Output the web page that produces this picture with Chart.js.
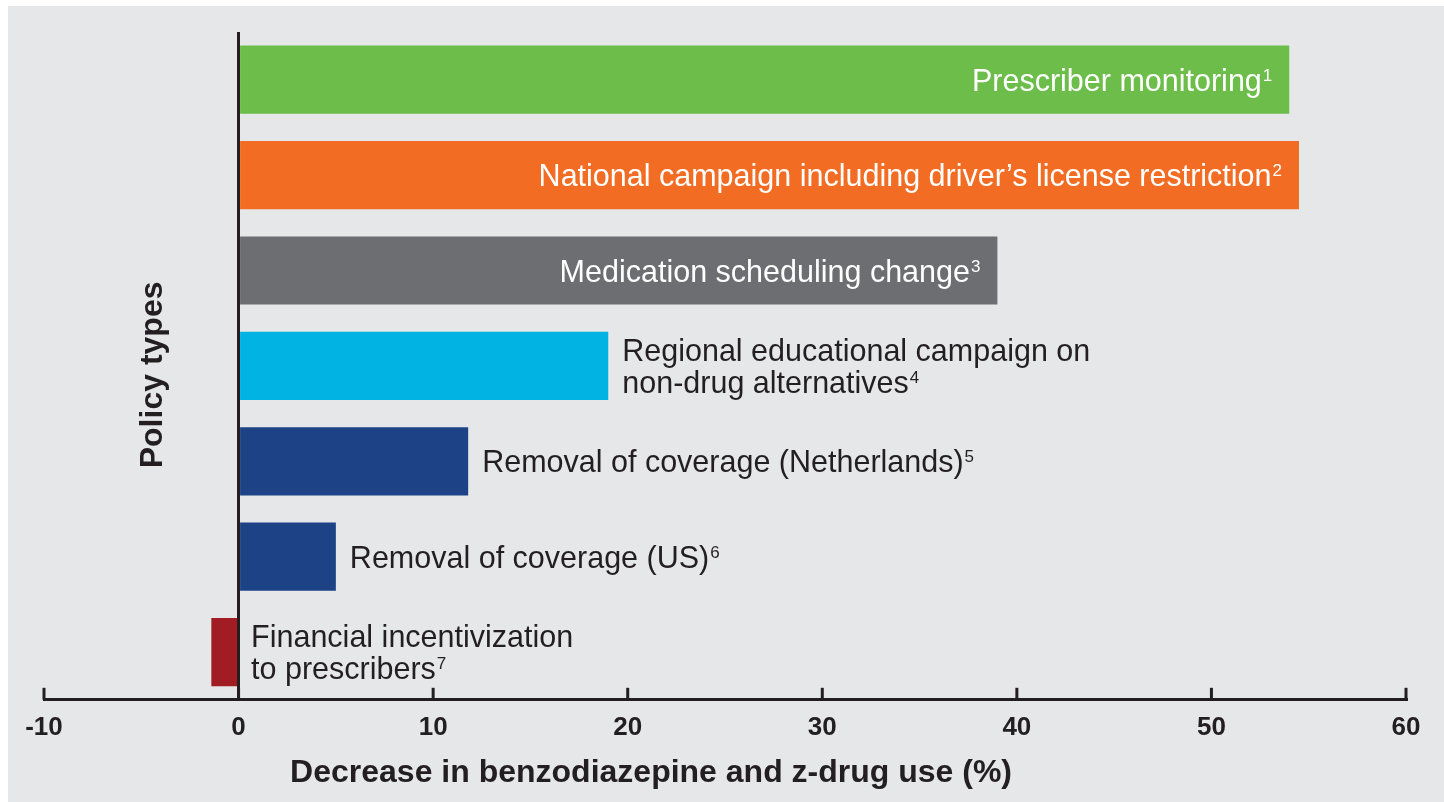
<!DOCTYPE html>
<html>
<head>
<meta charset="utf-8">
<script src="https://cdn.jsdelivr.net/npm/chart.js@4/dist/chart.umd.min.js"></script>
<style>
    body { margin: 0; background: #ffffff; }
    #panel { position: absolute; left: 8px; top: 6px; width: 1436px; height: 796px; background: #e6e7e9; }
</style>
</head>
<body>
<div id="panel"><canvas id="policyChart" width="1436" height="796"></canvas></div>
<script>
// policy types, top to bottom
const categories = [
    ["Prescriber monitoring"],
    ["National campaign including driver\u2019s license restriction"],
    ["Medication scheduling change"],
    ["Regional educational campaign on", "non-drug alternatives"],
    ["Removal of coverage (Netherlands)"],
    ["Removal of coverage (US)"],
    ["Financial incentivization", "to prescribers"]
];
const notes = ["1", "2", "3", "4", "5", "6", "7"];
// decrease in benzodiazepine and z-drug use (%)
const values = [54.0, 54.5, 39.0, 19.0, 11.8, 5.0, -1.4];
const barColors = ["#6dbd4b", "#f26d23", "#6d6e71", "#00b3e3", "#1d4386", "#1d4386", "#a21d23"];
const xMin = -10, xMax = 60, xStep = 10;

const ink = "#231f20";
const labelFont = "30.5px 'Liberation Sans', Arial, sans-serif";
const noteFont = "17px 'Liberation Sans', Arial, sans-serif";
const titleFont = "bold 32px 'Liberation Sans', Arial, sans-serif";

const decor = {
    id: "decor",
    afterDatasetsDraw(chart) {
        const ctx = chart.ctx;
        const xs = chart.scales.x;
        const area = chart.chartArea;
        ctx.save();

        // ticks pointing up from the axis line
        ctx.strokeStyle = ink;
        ctx.lineWidth = 3;
        xs.ticks.forEach(t => {
            let px = xs.getPixelForValue(t.value);
            ctx.beginPath();
            ctx.moveTo(px, area.bottom);
            ctx.lineTo(px, area.bottom - 12);
            ctx.stroke();
        });

        // bar labels with footnote numbers
        let meta = chart.getDatasetMeta(0);
        meta.data.forEach((bar, i) => {
            let lines = categories[i];
            let inside = values[i] > 30;
            ctx.font = noteFont;
            let noteW = ctx.measureText(notes[i]).width;
            let gap = 32;
            let firstBase = bar.y + 11 - gap * (lines.length - 1) / 2;
            ctx.fillStyle = inside ? "#ffffff" : ink;
            ctx.textBaseline = "alphabetic";
            ctx.textAlign = "left";
            lines.forEach((line, j) => {
                ctx.font = labelFont;
                let w = ctx.measureText(line).width;
                let x0;
                if (inside) {
                    x0 = bar.x - 18 - (j === lines.length - 1 ? w + noteW : w);
                } else {
                    x0 = Math.max(bar.x, bar.base) + 14;
                }
                let y = firstBase + gap * j;
                ctx.fillText(line, x0, y);
                if (j === lines.length - 1) {
                    ctx.font = noteFont;
                    ctx.fillText(notes[i], x0 + w + 1, y - 10);
                }
            });
        });

        // axis titles
        ctx.fillStyle = ink;
        ctx.font = titleFont;
        ctx.textAlign = "center";
        ctx.textBaseline = "middle";
        ctx.fillText("Decrease in benzodiazepine and z-drug use (%)", xs.getPixelForValue(21.2), 767);
        ctx.translate(145, (area.top + area.bottom) / 2 + 9);
        ctx.rotate(-Math.PI / 2);
        ctx.fillText("Policy types", 0, 0);
        ctx.restore();
    }
};

function policyChart() {

    let policyChart = document.getElementById('policyChart');

    new Chart(policyChart, {
        type: 'bar',
        data: {
            labels: categories.map(c => c.join(" ")),
            datasets: [{
                data: values,
                backgroundColor: barColors,
                borderWidth: 0,
                categoryPercentage: 1,
                barPercentage: 0.715
            }]
        },
        options: {
            indexAxis: 'y',
            responsive: false,
            animation: false,
            layout: {
                padding: { left: 36, right: 38, top: 26, bottom: 47 }
            },
            plugins: {
                legend: { display: false },
                tooltip: { enabled: false }
            },
            scales: {
                y: {
                    display: false
                },
                x: {
                    min: xMin,
                    max: xMax,
                    z: 1,
                    border: { display: true, color: ink, width: 3 },
                    grid: {
                        drawTicks: false,
                        lineWidth: 3,
                        color: c => (c.tick && c.tick.value === 0) ? ink : 'rgba(0,0,0,0)'
                    },
                    ticks: {
                        stepSize: xStep,
                        padding: 12,
                        color: ink,
                        font: { family: "'Liberation Sans', Arial, sans-serif", size: 26, weight: 'bold' }
                    }
                }
            }
        },
        plugins: [decor]
    });
}

policyChart();
</script>
</body>
</html>
